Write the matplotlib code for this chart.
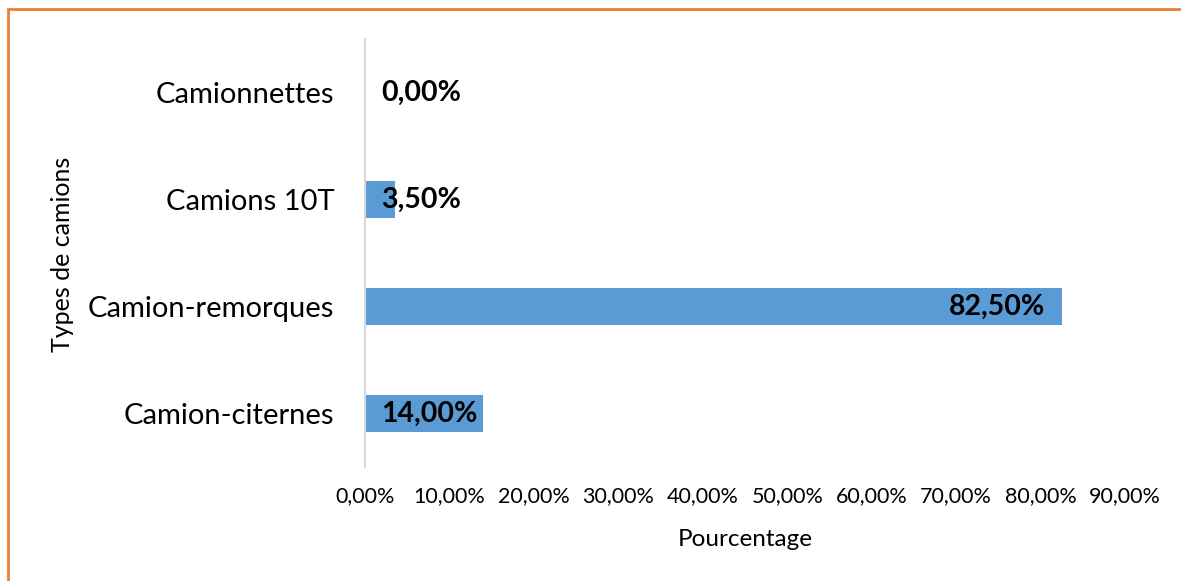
import matplotlib.pyplot as plt
from matplotlib.patches import Rectangle

categories = ["Camion-citernes", "Camion-remorques", "Camions 10T", "Camionnettes"]
values = [14.00, 82.50, 3.50, 0.00]
xticks = [0, 10, 20, 30, 40, 50, 60, 70, 80, 90]

plt.rcParams['font.family'] = ['Lato', 'DejaVu Sans']

W, H = 1181, 581
fig = plt.figure(figsize=(W / 100, H / 100), dpi=100)
fig.patch.set_facecolor('white')

# orange frame (cut at right and bottom)
fig.patches.append(Rectangle((8 / W, -0.1), 1.2, 1 - 9 / H + 0.1, transform=fig.transFigure,
                             fill=False, edgecolor='#ED7D31', linewidth=2.0))

ax = fig.add_axes([365 / W, 1 - 467 / H, (1125 - 365) / W, (467 - 39) / H])
ypos = list(range(len(categories)))
ax.barh(ypos, values, height=0.35, color='#5B9BD5')
ax.set_xlim(0, 90)
ax.set_ylim(-0.5, len(categories) - 0.5)
ax.set_xticks(xticks)
ax.set_xticklabels([f"{t:.2f}".replace('.', ',') + "%" for t in xticks], fontsize=15.5, color='#000000')
ax.set_yticks(ypos)
ax.set_yticklabels(categories, fontsize=21)
ax.tick_params(axis='both', length=0)
ax.tick_params(axis='x', pad=14)
ax.tick_params(axis='y', pad=22)
for s in ['top', 'right', 'bottom']:
    ax.spines[s].set_visible(False)
ax.spines['left'].set_color('#D9D9D9')
ax.spines['left'].set_linewidth(1.5)

for y, v in zip(ypos, values):
    lab = f"{v:.2f}".replace('.', ',') + "%"
    if v > 20:
        ax.annotate(lab, (v, y), xytext=(-17, 0), textcoords='offset pixels',
                    ha='right', va='center', fontsize=20.5, fontweight='bold')
    else:
        ax.annotate(lab, (0, y), xytext=(16, 0), textcoords='offset pixels',
                    ha='left', va='center', fontsize=20.5, fontweight='bold')

fig.text(745 / W, 1 - 540 / H, "Pourcentage", ha='center', va='center', fontsize=17.5)
fig.text(63 / W, 1 - 254 / H, "Types de camions", ha='center', va='center', rotation=90, fontsize=18)

fig.savefig("out.png", dpi=100)
